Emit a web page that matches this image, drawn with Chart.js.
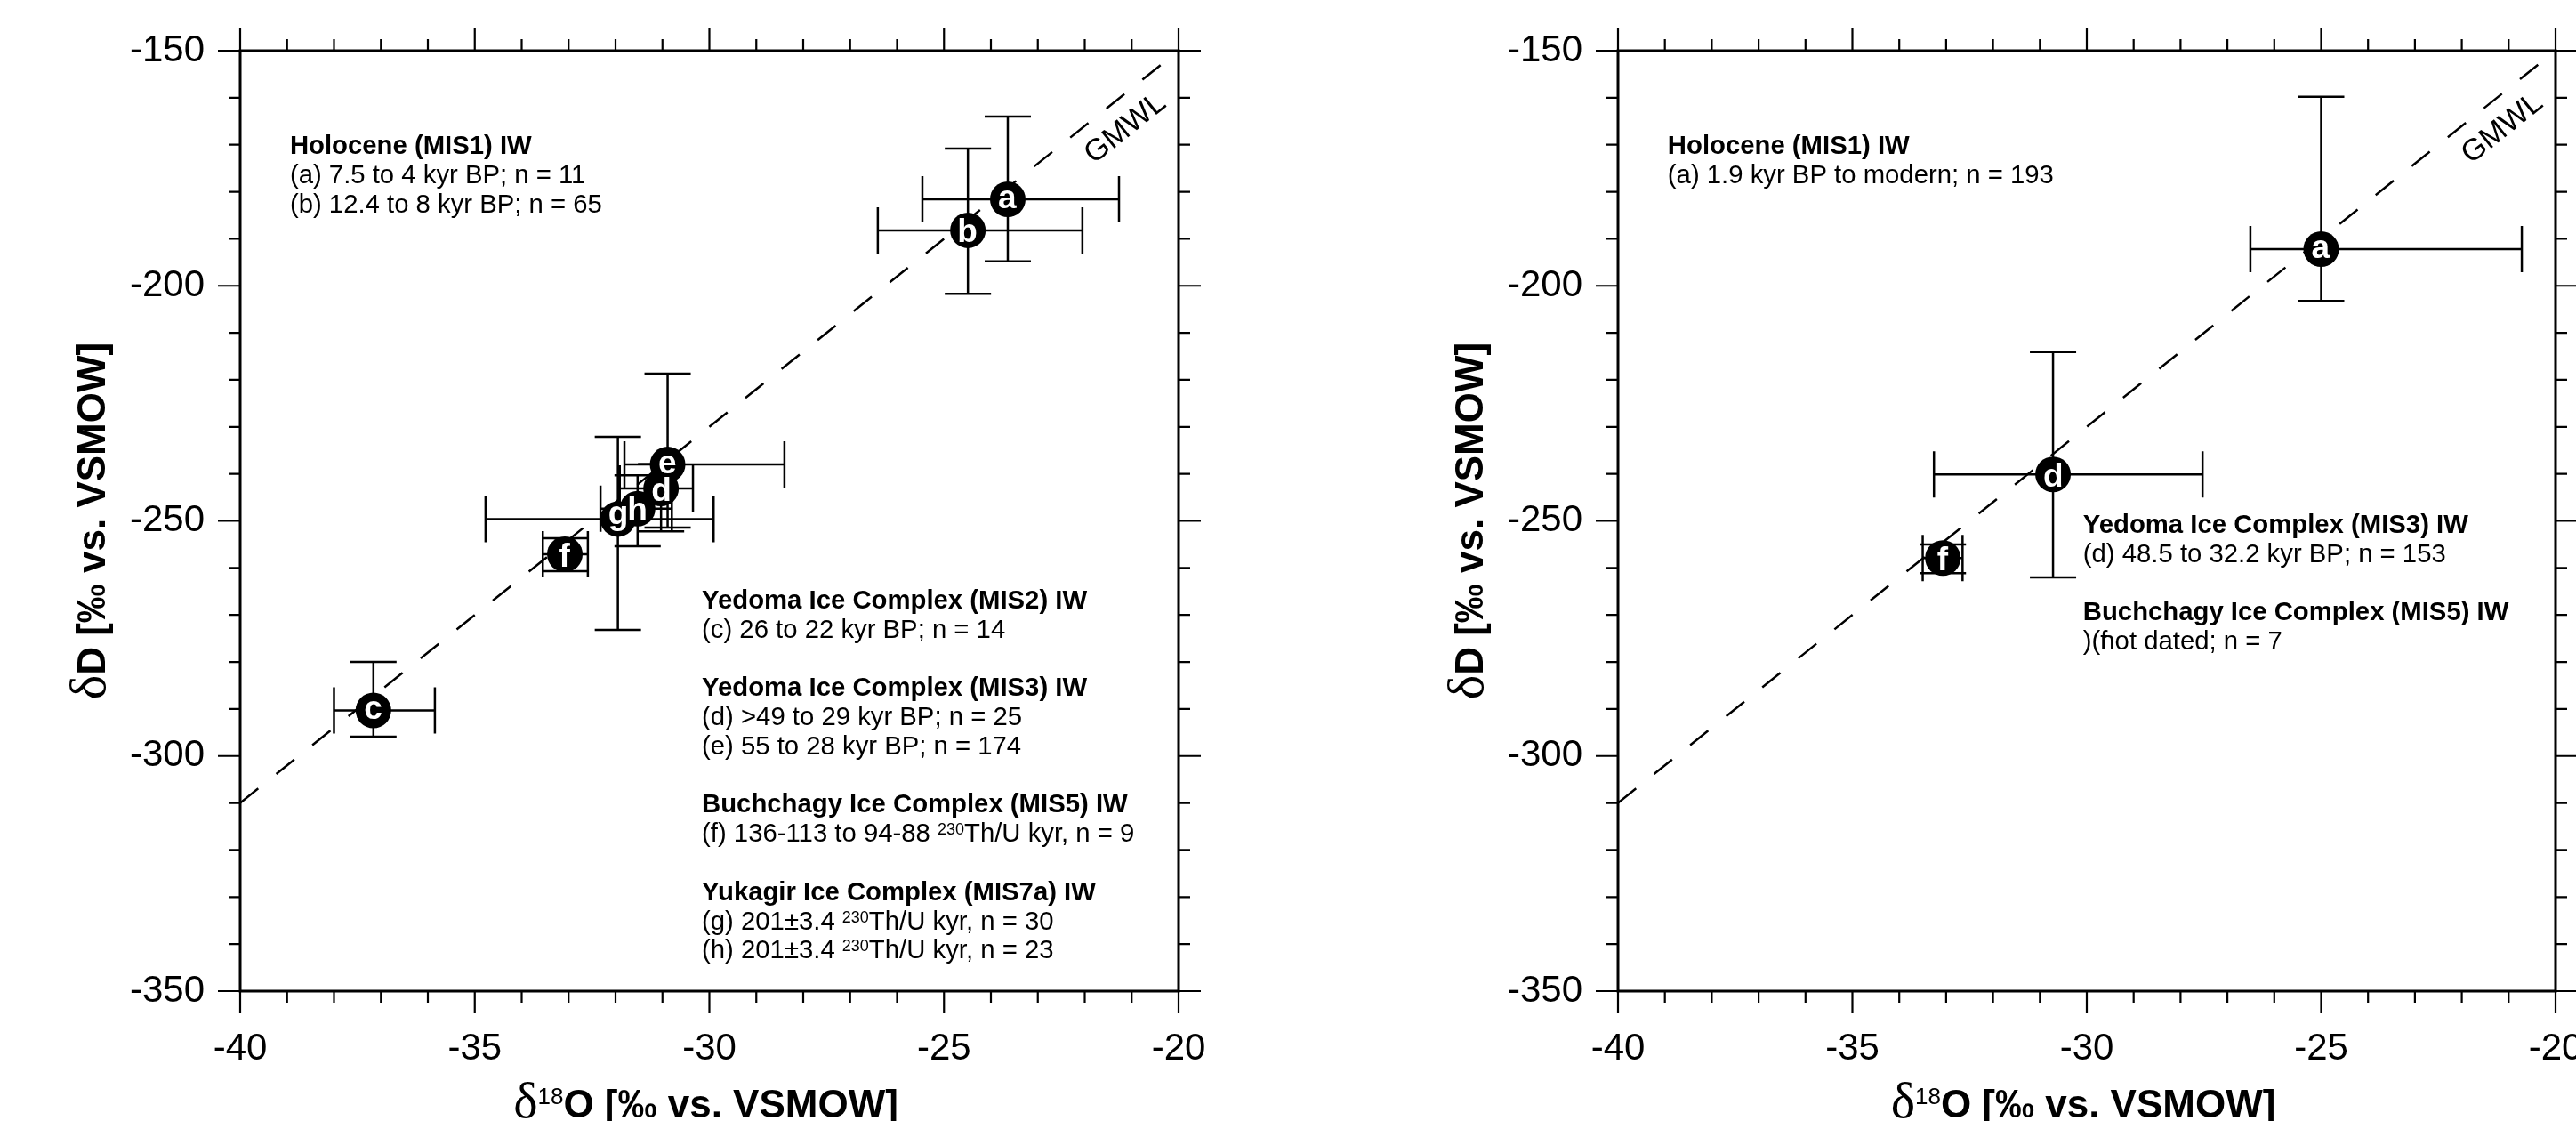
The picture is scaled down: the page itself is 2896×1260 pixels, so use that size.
<!DOCTYPE html>
<html>
<head>
<meta charset="utf-8">
<title>Ice wedge isotopes</title>
<script src="https://cdn.jsdelivr.net/npm/chart.js@4.4.1/dist/chart.umd.min.js"></script>
<style>
  html, body { margin: 0; padding: 0; background: #fff; }
  #wrap { position: relative; width: 2896px; height: 1260px; overflow: hidden; }
  canvas { position: absolute; top: 0; }
</style>
</head>
<body>
<div id="wrap">
  <canvas id="left-panel" width="1448" height="1260" style="left:0"></canvas>
  <canvas id="right-panel" width="1448" height="1260" style="left:1448px"></canvas>
</div>
<script>
// Axis ranges / ticks (both panels)
const xRange = [-40, -20];
const yRange = [-350, -150];
const xMajorStep = 5, xMinorStep = 1;
const yMajorStep = 50, yMinorStep = 10;

// GMWL end points (dD = 8 d18O + 10)
const gmwlX = [-40, -20];
const gmwlY = [-310, -150];

// Left panel: mean and error bar ends
const leftLabels = ['a', 'b', 'c', 'd', 'e', 'f', 'g', 'h'];
const leftD18O   = [-23.64, -24.49, -37.16, -31.03, -30.89, -33.08, -31.95, -31.53];
const leftD18OLo = [-25.46, -26.41, -38.00, -31.91, -31.81, -33.55, -34.77, -32.32];
const leftD18OHi = [-21.27, -22.05, -35.85, -30.35, -28.40, -32.59, -29.91, -30.80];
const leftDD     = [-181.6, -188.2, -290.3, -243.1, -238.0, -257.1, -249.6, -247.4];
const leftDDLo   = [-194.8, -201.7, -295.9, -252.2, -251.4, -260.7, -273.2, -255.4];
const leftDDHi   = [-164.0, -170.8, -280.0, -237.9, -218.7, -253.7, -232.1, -240.3];

// Right panel
const rightLabels = ['a', 'd', 'f'];
const rightD18O   = [-25.00, -30.72, -33.07];
const rightD18OLo = [-26.51, -33.26, -33.50];
const rightD18OHi = [-20.72, -27.53, -32.65];
const rightDD     = [-192.2, -240.1, -257.9];
const rightDDLo   = [-203.2, -262.0, -261.1];
const rightDDHi   = [-159.8, -214.1, -255.0];

// Legend texts. string = normal, {b} = bold, {sup} = superscript, {over} = no advance
const leftTopText = [
  [{b: 'Holocene (MIS1) IW'}],
  ['(a) 7.5 to 4 kyr BP; n = 11'],
  ['(b) 12.4 to 8 kyr BP; n = 65']
];
const leftBottomText = [
  [{b: 'Yedoma Ice Complex (MIS2) IW'}],
  ['(c) 26 to 22 kyr BP; n = 14'],
  [],
  [{b: 'Yedoma Ice Complex (MIS3) IW'}],
  ['(d) >49 to 29 kyr BP; n = 25'],
  ['(e) 55 to 28 kyr BP; n = 174'],
  [],
  [{b: 'Buchchagy Ice Complex (MIS5) IW'}],
  ['(f) 136-113 to 94-88 ', {sup: '230'}, 'Th/U kyr, n = 9'],
  [],
  [{b: 'Yukagir Ice Complex (MIS7a) IW'}],
  ['(g) 201\u00b13.4 ', {sup: '230'}, 'Th/U kyr, n = 30'],
  ['(h) 201\u00b13.4 ', {sup: '230'}, 'Th/U kyr, n = 23']
];
const rightTopText = [
  [{b: 'Holocene (MIS1) IW'}],
  ['(a) 1.9 kyr BP to modern; n = 193']
];
const rightBottomText = [
  [{b: 'Yedoma Ice Complex (MIS3) IW'}],
  ['(d) 48.5 to 32.2 kyr BP; n = 153'],
  [],
  [{b: 'Buchchagy Ice Complex (MIS5) IW'}],
  [')(', {over: 'f'}, 'not dated; n = 7']
];

const xTitle = [{t: '\u03b4', k: 'delta'}, {t: '18', k: 'sup'}, {t: 'O [\u2030 vs. VSMOW]', k: 'main'}];
const yTitle = [{t: '\u03b4', k: 'delta'}, {t: 'D [\u2030 vs. VSMOW]', k: 'main'}];

const SANS = "'Liberation Sans', Arial, Helvetica, sans-serif";
const SERIF = "'Liberation Serif', 'Times New Roman', serif";
const NOTE_SIZE = 29.3;
const LINE_H = 32.8;

Chart.defaults.font.family = SANS;
Chart.defaults.color = '#000';

function drawErrorBars(chart, p) {
  const { ctx, scales: { x, y } } = chart;
  const cap = 26;
  ctx.save();
  ctx.strokeStyle = '#000';
  ctx.lineWidth = 2.5;
  ctx.beginPath();
  p.labels.forEach((_, i) => {
    const cx = x.getPixelForValue(p.x[i]), cy = y.getPixelForValue(p.y[i]);
    const x0 = x.getPixelForValue(p.xLo[i]), x1 = x.getPixelForValue(p.xHi[i]);
    const y0 = y.getPixelForValue(p.yLo[i]), y1 = y.getPixelForValue(p.yHi[i]);
    ctx.moveTo(x0, cy); ctx.lineTo(x1, cy);
    ctx.moveTo(x0, cy - cap); ctx.lineTo(x0, cy + cap);
    ctx.moveTo(x1, cy - cap); ctx.lineTo(x1, cy + cap);
    ctx.moveTo(cx, y0); ctx.lineTo(cx, y1);
    ctx.moveTo(cx - cap, y0); ctx.lineTo(cx + cap, y0);
    ctx.moveTo(cx - cap, y1); ctx.lineTo(cx + cap, y1);
  });
  ctx.stroke();
  ctx.restore();
}

function drawMarkerLetters(chart, p) {
  const ctx = chart.ctx;
  const meta = chart.getDatasetMeta(0);
  ctx.save();
  ctx.fillStyle = '#fff';
  ctx.font = 'bold 37px ' + SANS;
  ctx.textAlign = 'left';
  ctx.textBaseline = 'alphabetic';
  meta.data.forEach((pt, i) => {
    const m = ctx.measureText(p.labels[i]);
    const w = m.actualBoundingBoxRight + m.actualBoundingBoxLeft;
    const h = m.actualBoundingBoxAscent + m.actualBoundingBoxDescent;
    ctx.fillText(p.labels[i], pt.x - w / 2 + m.actualBoundingBoxLeft,
                 pt.y + h / 2 - m.actualBoundingBoxDescent);
  });
  ctx.restore();
}

function drawFrame(chart) {
  const { ctx, chartArea: a, scales: { x, y } } = chart;
  ctx.save();
  ctx.strokeStyle = '#000';
  ctx.lineWidth = 2.2;
  ctx.beginPath();
  const nx = Math.round((x.max - x.min) / xMinorStep);
  for (let i = 0; i <= nx; i++) {
    const v = x.min + i * xMinorStep;
    const px = x.getPixelForValue(v);
    const len = (i % (xMajorStep / xMinorStep) === 0) ? 25 : 13;
    ctx.moveTo(px, a.top); ctx.lineTo(px, a.top - len);
    ctx.moveTo(px, a.bottom); ctx.lineTo(px, a.bottom + len);
  }
  const ny = Math.round((y.max - y.min) / yMinorStep);
  for (let i = 0; i <= ny; i++) {
    const v = y.min + i * yMinorStep;
    const py = y.getPixelForValue(v);
    const len = (i % (yMajorStep / yMinorStep) === 0) ? 25 : 13;
    ctx.moveTo(a.left, py); ctx.lineTo(a.left - len, py);
    ctx.moveTo(a.right, py); ctx.lineTo(a.right + len, py);
  }
  ctx.stroke();
  ctx.lineWidth = 3;
  ctx.strokeRect(a.left, a.top, a.right - a.left, a.bottom - a.top);
  ctx.restore();
}

function drawGmwlLabel(chart, atX) {
  const { ctx, scales: { x, y } } = chart;
  const x0 = x.getPixelForValue(gmwlX[0]), y0 = y.getPixelForValue(gmwlY[0]);
  const x1 = x.getPixelForValue(gmwlX[1]), y1 = y.getPixelForValue(gmwlY[1]);
  const ang = Math.atan2(y1 - y0, x1 - x0);
  const t = (atX - gmwlX[0]) / (gmwlX[1] - gmwlX[0]);
  const px = x0 + t * (x1 - x0), py = y0 + t * (y1 - y0);
  const off = 31;
  ctx.save();
  ctx.translate(px - Math.sin(ang) * off, py + Math.cos(ang) * off);
  ctx.rotate(ang);
  ctx.fillStyle = '#000';
  ctx.font = '34px ' + SANS;
  ctx.textAlign = 'center';
  ctx.textBaseline = 'middle';
  ctx.fillText('GMWL', 0, 0);
  ctx.restore();
}

function drawNotes(chart, lines, at) {
  const { ctx, scales: { x, y } } = chart;
  const x0 = x.getPixelForValue(at[0]);
  let yy = y.getPixelForValue(at[1]);
  ctx.save();
  ctx.fillStyle = '#000';
  ctx.textAlign = 'left';
  ctx.textBaseline = 'alphabetic';
  lines.forEach(line => {
    let xx = x0;
    line.forEach(seg => {
      if (typeof seg === 'string') {
        ctx.font = NOTE_SIZE + 'px ' + SANS;
        ctx.fillText(seg, xx, yy);
        xx += ctx.measureText(seg).width;
      } else if (seg.b) {
        ctx.font = 'bold ' + NOTE_SIZE + 'px ' + SANS;
        ctx.fillText(seg.b, xx, yy);
        xx += ctx.measureText(seg.b).width;
      } else if (seg.sup) {
        ctx.font = '18px ' + SANS;
        ctx.fillText(seg.sup, xx, yy - 8);
        xx += ctx.measureText(seg.sup).width;
      } else if (seg.over) {
        ctx.font = NOTE_SIZE + 'px ' + SANS;
        ctx.fillText(seg.over, xx, yy);
      }
    });
    yy += LINE_H;
  });
  ctx.restore();
}

function titleFont(k) {
  if (k === 'delta') return '58px ' + SERIF;
  if (k === 'sup') return '26px ' + SANS;
  return 'bold 44px ' + SANS;
}

function drawTitleParts(ctx, parts, cx, base) {
  let total = 0;
  parts.forEach(pt => { ctx.font = titleFont(pt.k); total += ctx.measureText(pt.t).width; });
  let xx = cx - total / 2;
  parts.forEach(pt => {
    ctx.font = titleFont(pt.k);
    ctx.fillText(pt.t, xx, pt.k === 'sup' ? base - 15.5 : base);
    xx += ctx.measureText(pt.t).width;
  });
}

function drawAxisTitles(chart) {
  const { ctx, chartArea: a } = chart;
  ctx.save();
  ctx.fillStyle = '#000';
  ctx.textAlign = 'left';
  ctx.textBaseline = 'alphabetic';
  drawTitleParts(ctx, xTitle, (a.left + a.right) / 2 - 4, a.bottom + 142);
  ctx.translate(a.left - 152, (a.top + a.bottom) / 2);
  ctx.rotate(-Math.PI / 2);
  drawTitleParts(ctx, yTitle, 0, 0);
  ctx.restore();
}

function makePanel(p) {
  const points = p.x.map((v, i) => ({ x: v, y: p.y[i] }));
  const gmwl = gmwlX.map((v, i) => ({ x: v, y: gmwlY[i] }));

  new Chart(document.getElementById(p.id), {
    type: 'scatter',
    data: {
      datasets: [{
        label: 'Ice wedges',
        data: points,
        pointRadius: 20,
        pointHoverRadius: 20,
        pointBackgroundColor: '#000',
        pointBorderWidth: 0
      }, {
        type: 'line',
        label: 'GMWL',
        data: gmwl,
        borderColor: '#000',
        borderWidth: 2.5,
        borderDash: [26, 26],
        pointRadius: 0,
        fill: false,
        tension: 0
      }]
    },
    options: {
      responsive: false,
      animation: false,
      events: [],
      layout: { padding: { left: 0, top: 57, right: p.rightPad, bottom: 0 } },
      plugins: { legend: { display: false }, tooltip: { enabled: false } },
      scales: {
        x: {
          type: 'linear', position: 'bottom',
          min: xRange[0], max: xRange[1],
          grid: { display: false, drawTicks: false },
          border: { display: false },
          ticks: { stepSize: xMajorStep, padding: 40, font: { size: 42 }, color: '#000' },
          afterFit(s) { s.height = 146; s.paddingLeft = 0; s.paddingRight = 0; }
        },
        y: {
          type: 'linear', position: 'left',
          min: yRange[0], max: yRange[1],
          grid: { display: false, drawTicks: false },
          border: { display: false },
          ticks: { stepSize: yMajorStep, padding: 40, font: { size: 42 }, color: '#000' },
          afterFit(s) { s.width = p.yAxisWidth; s.paddingTop = 0; s.paddingBottom = 0; }
        }
      }
    },
    plugins: [{
      id: 'panelDecor',
      beforeDatasetsDraw(chart) { drawErrorBars(chart, p); },
      afterDatasetsDraw(chart) { drawMarkerLetters(chart, p); },
      afterDraw(chart) {
        drawFrame(chart);
        drawGmwlLabel(chart, -21.5);
        p.notes.forEach(n => drawNotes(chart, n.lines, n.at));
        drawAxisTitles(chart);
      }
    }]
  });
}

makePanel({
  id: 'left-panel', yAxisWidth: 270, rightPad: 123,
  labels: leftLabels,
  x: leftD18O, xLo: leftD18OLo, xHi: leftD18OHi,
  y: leftDD, yLo: leftDDLo, yHi: leftDDHi,
  notes: [
    { lines: leftTopText, at: [-38.94, -171.95] },
    { lines: leftBottomText, at: [-30.16, -268.6] }
  ]
});

makePanel({
  id: 'right-panel', yAxisWidth: 371, rightPad: 23,
  labels: rightLabels,
  x: rightD18O, xLo: rightD18OLo, xHi: rightD18OHi,
  y: rightDD, yLo: rightDDLo, yHi: rightDDHi,
  notes: [
    { lines: rightTopText, at: [-38.94, -171.95] },
    { lines: rightBottomText, at: [-30.08, -252.5] }
  ]
});
</script>
</body>
</html>
